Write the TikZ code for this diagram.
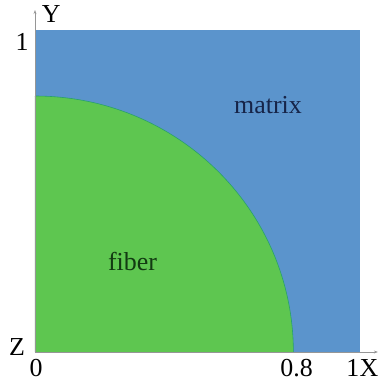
\documentclass[tikz,border=0pt]{standalone}
\usepackage{fontspec}
\setmainfont{Liberation Serif}
\usetikzlibrary{arrows.meta}
\definecolor{matrixblue}{RGB}{91,148,204}
\definecolor{fibergreen}{RGB}{94,198,80}
\definecolor{edgeteal}{RGB}{40,160,110}
\definecolor{axisgray}{RGB}{150,150,150}
\definecolor{matrixtext}{RGB}{22,36,72}
\definecolor{fibertext}{RGB}{18,58,18}
\begin{document}
\begin{tikzpicture}[x=325bp, y=322bp,
		lbl/.style={font=\fontsize{26}{30}\selectfont, inner sep=0pt},
		axis/.style={axisgray, line width=0.6pt, -{Stealth[length=4pt, width=3pt]}}]
	\useasboundingbox (-0.1077, -0.0963) rectangle (1.0862, 1.0932);
	% Matrix and fiber
	\fill[matrixblue] (0, 0) rectangle (1, 1);
	\fill[fibergreen] (0, 0) -- (0.795, 0) arc (0:90:0.795 and 0.795) -- cycle;
	\draw[edgeteal, line width=0.6pt] (0.795, 0) arc (0:90:0.795 and 0.795);
	
	% Axes
	\coordinate (O) at (0, 0);
	\coordinate (ytip) at (0, 1.062);
	\coordinate (xtip) at (1.055, 0);
	\draw[axis] (O) -- (ytip);
	\draw[axis] (O) -- (xtip);
	
	% Labels
	\node[lbl] (ylab) at (0.05, 1.05) {Y};
	\node[lbl] (one-y) at (-0.04, 0.963) {1};
	\node[lbl] (zlab) at (-0.055, 0.015) {Z};
	\node[lbl] (zero) at (0.003, -0.05) {0};
	\node[lbl] (eight) at (0.805, -0.05) {0.8};
	\node[lbl] (one-x) at (0.978, -0.05) {1};
	\node[lbl] (xlab) at (1.028, -0.05) {X};
	
	\node[lbl, text=matrixtext] (matrix) at (0.717, 0.767) {matrix};
	\node[lbl, text=fibertext] (fiber) at (0.30, 0.28) {fiber};
\end{tikzpicture}
\end{document}
